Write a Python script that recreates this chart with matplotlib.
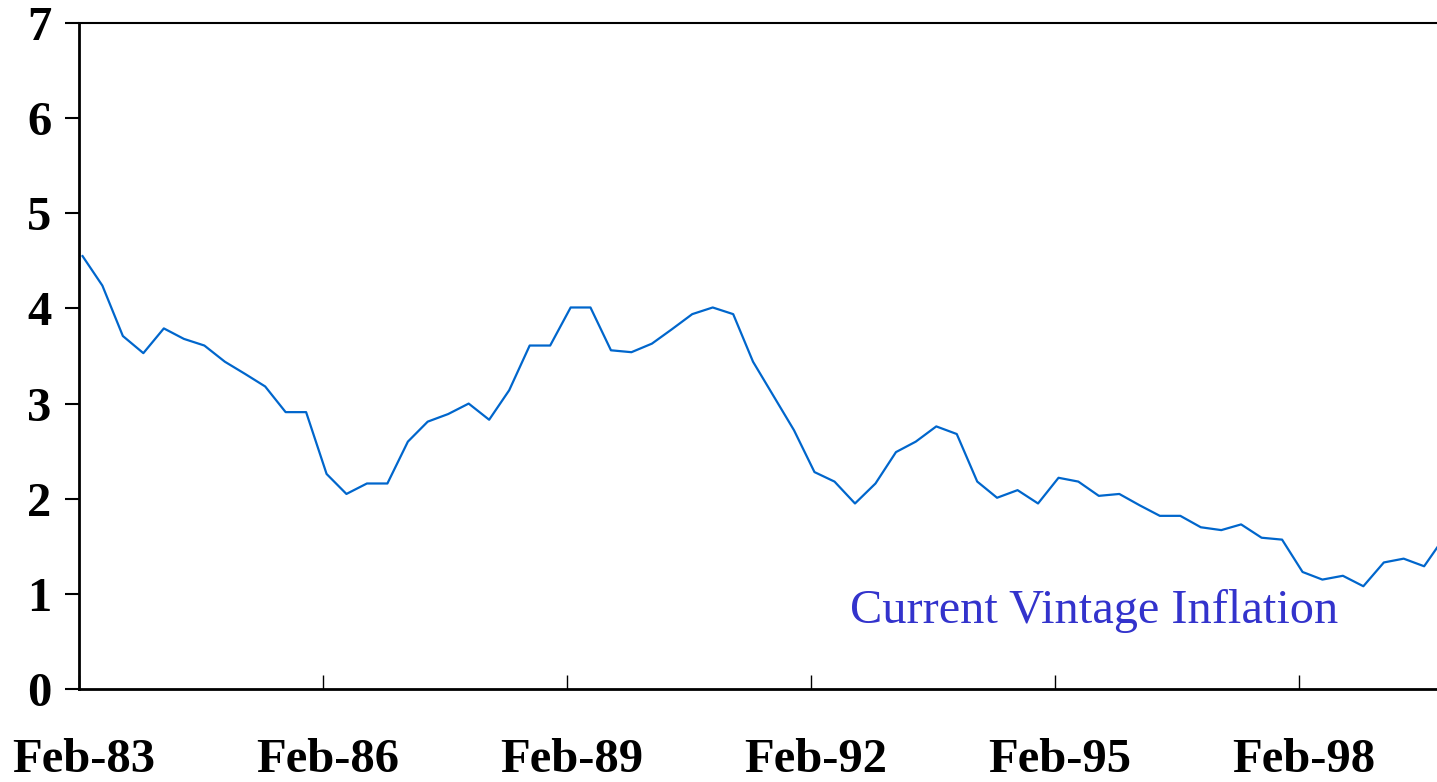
import numpy as np
import pandas as pd
import matplotlib
matplotlib.use("Agg")
import matplotlib.pyplot as plt
import matplotlib.dates as mdates
import matplotlib.transforms as mtransforms

# quarterly current-vintage inflation, starting Feb-83
inflation = [4.55, 4.24, 3.71, 3.53, 3.79, 3.68, 3.61, 3.44, 3.31, 3.18,
             2.91, 2.91, 2.26, 2.05, 2.16, 2.16, 2.60, 2.81, 2.89, 3.00,
             2.83, 3.14, 3.61, 3.61, 4.01, 4.01, 3.56, 3.54, 3.63, 3.78,
             3.94, 4.01, 3.94, 3.44, 3.08, 2.72, 2.28, 2.18, 1.95, 2.16,
             2.49, 2.60, 2.76, 2.68, 2.18, 2.01, 2.09, 1.95, 2.22, 2.18,
             2.03, 2.05, 1.93, 1.82, 1.82, 1.70, 1.67, 1.73, 1.59, 1.57,
             1.23, 1.15, 1.19, 1.08, 1.33, 1.37, 1.29, 1.60]
tick_years = [1983, 1986, 1989, 1992, 1995, 1998]
tick_labels = ["Feb-83", "Feb-86", "Feb-89", "Feb-92", "Feb-95", "Feb-98"]
series_label = "Current Vintage Inflation"

dates = pd.date_range("1983-02-01", periods=len(inflation), freq="3MS") + pd.Timedelta(days=16)
ticks = [pd.Timestamp(f"{y}-02-01") for y in tick_years]

W, H = 1437, 782
fig = plt.figure(figsize=(W / 100, H / 100), dpi=100)
ax = fig.add_axes([79 / W, 93 / H, 1358 / W, 666 / H])

ax.plot(dates, inflation, color="#0066cc", lw=1.6)

# pixel scale fixed by Feb-83 -> Feb-98 spanning 1220 px
x0 = mdates.date2num(ticks[0])
per_px = (mdates.date2num(ticks[-1]) - x0) / 1220.0
ax.set_xlim(x0, x0 + 1358 * per_px)
ax.set_ylim(0, 7)

ax.set_xticks(ticks)
ax.set_xticklabels(tick_labels)
ax.set_yticks(range(0, 8))

for lab in ax.get_xticklabels() + ax.get_yticklabels():
    lab.set_fontfamily("Liberation Serif")
    lab.set_fontweight("bold")
    lab.set_fontsize(35)

ax.tick_params(axis="y", direction="out", length=10, width=1.5, pad=10)
ax.tick_params(axis="x", direction="in", length=10, width=1.0, pad=35)

# x labels sit a little right of their ticks in the original
shift = mtransforms.ScaledTranslation(5 / 100, 0, fig.dpi_scale_trans)
for lab in ax.get_xticklabels():
    lab.set_transform(lab.get_transform() + shift)

ax.spines["right"].set_visible(False)
ax.spines["left"].set_linewidth(2)
ax.spines["bottom"].set_linewidth(2)
ax.spines["top"].set_linewidth(1.5)

ax.text(0.568, 0.117, series_label, transform=ax.transAxes, ha="left", va="center",
        color="#3333cc", fontsize=34.8, fontfamily="Liberation Serif")

fig.savefig("out.png", dpi=100)
